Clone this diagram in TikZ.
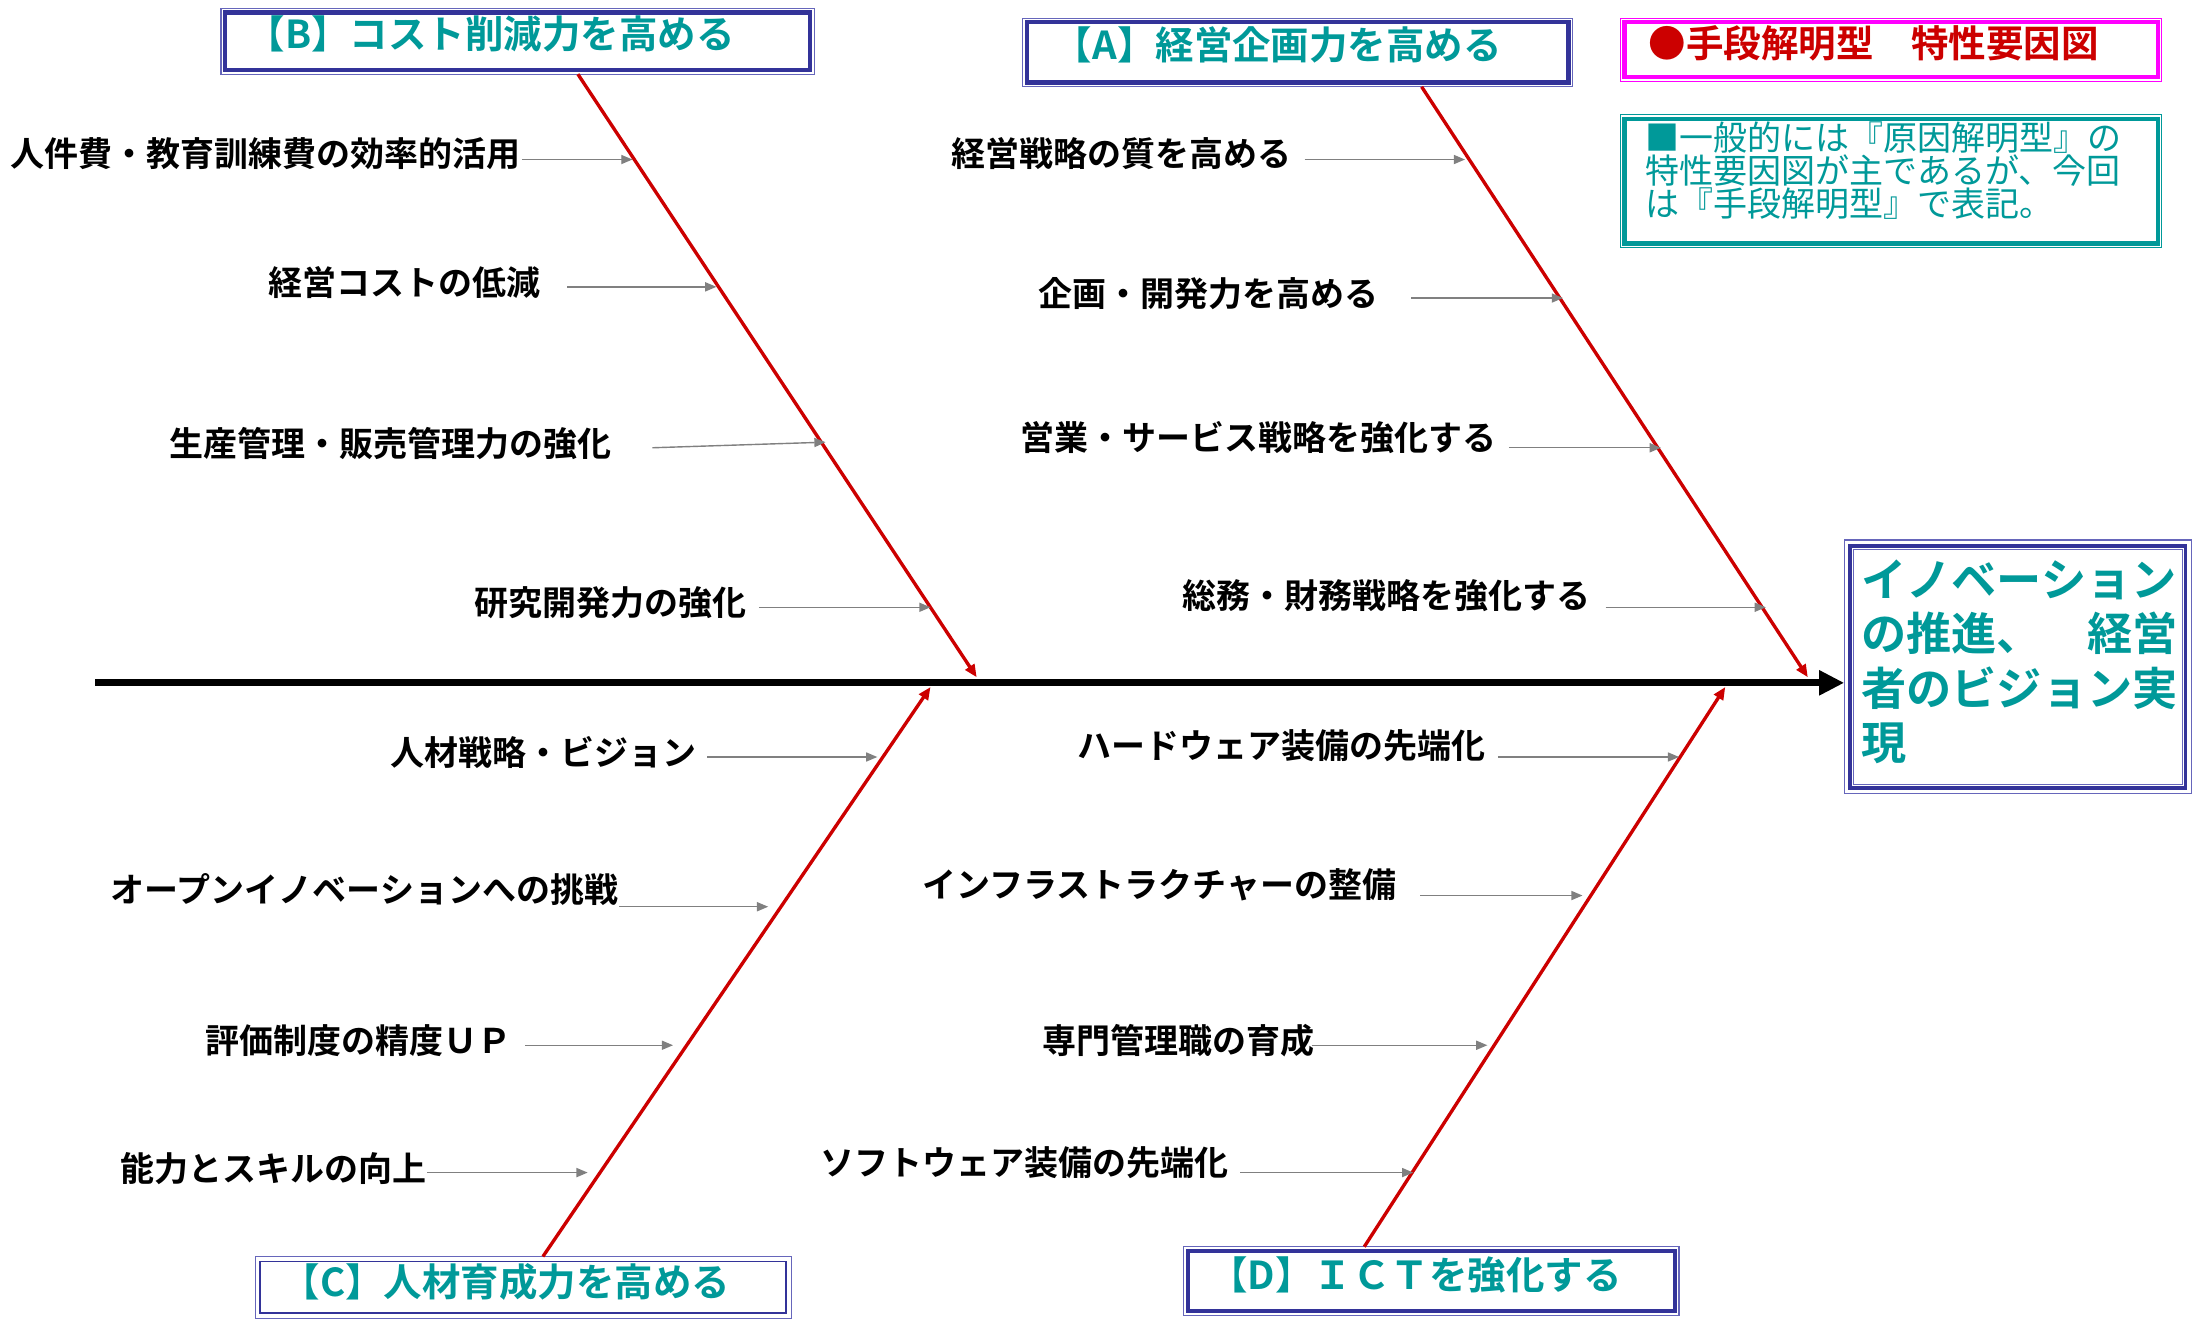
\documentclass[tikz,border=0pt]{standalone}
\usepackage{fontspec}
\setmainfont{Noto Sans CJK JP}[BoldFont={Noto Sans CJK JP Bold}]
\usetikzlibrary{arrows.meta,calc}
\definecolor{tealtx}{RGB}{0,153,153}
\definecolor{navy}{RGB}{51,51,153}
\definecolor{navylt}{RGB}{102,102,187}
\definecolor{bonered}{RGB}{204,0,0}
\definecolor{magen}{RGB}{255,0,255}
\definecolor{agray}{RGB}{128,128,128}
\tikzset{
  lab/.style={font=\bfseries\fontsize{24.3}{24.3}\selectfont, inner sep=0pt, anchor=west, text=black},
  hd/.style={font=\bfseries\fontsize{27.5}{27.5}\selectfont, text=tealtx, inner sep=0pt, anchor=west},
  thickframe/.style={draw=#1, line width=3pt, inner sep=0pt, outer sep=0pt, fill=white},
  thinframe/.style={draw=#1, line width=0.9pt},
  sub/.style={draw=agray, line width=1pt, -{Triangle[length=8pt,width=6.5pt]}},
  bone/.style={draw=bonered, line width=2.4pt, -{Triangle[length=9pt,width=7.5pt]}},
  spine/.style={draw=black, line width=5pt, -{Triangle[length=18pt,width=17pt]}},
}
\begin{document}
\begin{tikzpicture}[x=1pt,y=-1pt]
\fill[white] (0,0) rectangle (1568,943);
\useasboundingbox (0,0) rectangle (1568,943);

% ---------- category boxes ----------
\node[thickframe=navy, minimum width=387pt, minimum height=43pt] (bA) at (927.5,37.5) {};
\draw[thinframe=navylt] ([xshift=-3pt,yshift=3pt]bA.north west) rectangle ([xshift=3pt,yshift=-3pt]bA.south east);
\node[hd] (tA) at (753,32) {【A】経営企画力を高める};

\node[thickframe=navy, minimum width=418pt, minimum height=41pt] (bB) at (370,29.5) {};
\draw[thinframe=navylt] ([xshift=-3pt,yshift=3pt]bB.north west) rectangle ([xshift=3pt,yshift=-3pt]bB.south east);
\node[hd] (tB) at (176,24) {【B】コスト削減力を高める};

\node[draw=navy, line width=1.3pt, fill=white, inner sep=0pt, minimum width=376pt, minimum height=37pt] (bC) at (374,920) {};
\draw[thinframe=navylt] ([xshift=-3pt,yshift=3pt]bC.north west) rectangle ([xshift=3pt,yshift=-3pt]bC.south east);
\node[hd] (tC) at (201,916) {【C】人材育成力を高める};

\node[thickframe=navy, minimum width=348pt, minimum height=43pt] (bD) at (1023,915.5) {};
\draw[thinframe=navylt] ([xshift=-3pt,yshift=3pt]bD.north west) rectangle ([xshift=3pt,yshift=-3pt]bD.south east);
\node[hd] (tD) at (864,911) {【D】ＩＣＴを強化する};

% ---------- title and note ----------
\node[thickframe=magen, minimum width=381pt, minimum height=39pt] (bT) at (1351.5,35.5) {};
\draw[thinframe=magen] ([xshift=-3pt,yshift=3pt]bT.north west) rectangle ([xshift=3pt,yshift=-3pt]bT.south east);
\node[font=\bfseries\fontsize{26.8}{26.8}\selectfont, text=bonered, inner sep=0pt, anchor=west] (tT) at (1178,31) {●手段解明型　特性要因図};

\node[thickframe=tealtx, minimum width=381pt, minimum height=89pt] (bN) at (1351.5,129.5) {};
\draw[thinframe=tealtx] ([xshift=-3pt,yshift=3pt]bN.north west) rectangle ([xshift=3pt,yshift=-3pt]bN.south east);
\node[font=\fontsize{24.3}{23.5}\selectfont, text=tealtx, inner sep=0pt, anchor=west, align=left] (tN) at (1176,122)
  {■一般的には『原因解明型』の\\特性要因図が主であるが、今回\\は『手段解明型』で表記。};

% ---------- effect box ----------
\node[thickframe=navy, line width=2.6pt, minimum width=240pt, minimum height=173pt] (eff) at (1442,476.5) {};
\draw[thinframe=navylt] ([xshift=-4pt,yshift=4pt]eff.north west) rectangle ([xshift=4pt,yshift=-4pt]eff.south east);
\draw[thinframe=navylt] ([xshift=2.5pt,yshift=-2.5pt]eff.north west) rectangle ([xshift=-2.5pt,yshift=2.5pt]eff.south east);
\node[font=\bfseries\fontsize{32.3}{39}\selectfont, text=tealtx, inner sep=0pt, anchor=west, align=left] (tE) at (1330,473)
  {イノベーション\\の推進、　経営\\者のビジョン実\\現};

% ---------- spine ----------
\coordinate (sp0) at (68,488);
\draw[spine, shorten >=4pt] (sp0) -- (eff.west |- sp0);

% ---------- main bones ----------
\coordinate (a0) at (1016,62);  \coordinate (a1) at (1292,484);
\coordinate (b0) at (413,53);   \coordinate (b1) at (698,484);
\coordinate (c0) at (388,898);  \coordinate (c1) at (665,491);
\coordinate (d0) at (975,891);  \coordinate (d1) at (1233,491);
\draw[bone] (a0) -- (a1);
\draw[bone] (b0) -- (b1);
\draw[bone] (c0) -- (c1);
\draw[bone] (d0) -- (d1);

% ---------- sub causes: B ----------
\node[lab] (l1) at (7,110) {人件費・教育訓練費の効率的活用};
\node[lab] (l2) at (192,202) {経営コストの低減};
\node[lab] (l3) at (121,317) {生産管理・販売管理力の強化};
\node[lab] (l4) at (339,431) {研究開発力の強化};
% A
\node[lab] (l5) at (680,110) {経営戦略の質を高める};
\node[lab] (l6) at (742,210) {企画・開発力を高める};
\node[lab] (l7) at (729,313) {営業・サービス戦略を強化する};
\node[lab] (l8) at (845,426) {総務・財務戦略を強化する};
% C
\node[lab] (l9) at (279,538) {人材戦略・ビジョン};
\node[lab] (l10) at (79,636) {オープンイノベーションへの挑戦};
\node[lab] (l11) at (147,744) {評価制度の精度ＵＰ};
\node[lab] (l12) at (86,835) {能力とスキルの向上};
% D
\node[lab] (l13) at (770,533) {ハードウェア装備の先端化};
\node[lab] (l14) at (659,632) {インフラストラクチャーの整備};
\node[lab] (l15) at (745,744) {専門管理職の育成};
\node[lab] (l16) at (586,831) {ソフトウェア装備の先端化};

\coordinate (e1) at (452,114);
\coordinate (e2) at (512,205);
\coordinate (e3) at (590,316);
\coordinate (e4) at (665,434);
\coordinate (e5) at (1047,114);
\coordinate (e6) at (1117,213);
\coordinate (e7) at (1187,320);
\coordinate (e8) at (1262,434);
\coordinate (e9) at (627,541);
\coordinate (e10) at (549,648);
\coordinate (e11) at (481,747);
\coordinate (e12) at (420,838);
\coordinate (e13) at (1200,541);
\coordinate (e14) at (1131,640);
\coordinate (e15) at (1063,747);
\coordinate (e16) at (1010,838);

\draw[sub] (l1.east) ++(1,4) -- (e1);
\draw[sub] (l2.east) ++(18.6,3) -- (e2);
\draw[sub] (l3.east) ++(29,3) -- (e3);
\draw[sub] (l4.east) ++(8.6,3) -- (e4);
\draw[sub] (l5.east) ++(9,4) -- (e5);
\draw[sub] (l6.east) ++(23,3) -- (e6);
\draw[sub] (l7.east) ++(8.8,7) -- (e7);
\draw[sub] (l8.east) ++(10.4,8) -- (e8);
\draw[sub] (l9.east) ++(7.3,3) -- (e9);
\draw[sub] (l10.east) ++(0.5,12) -- (e10);
\draw[sub] (l11.east) ++(9.3,3) -- (e11);
\draw[sub] (l12.east) ++(0.3,3) -- (e12);
\draw[sub] (l13.east) ++(8.4,8) -- (e13);
\draw[sub] (l14.east) ++(16.8,8) -- (e14);
\draw[sub] (l15.east) ++(-2.4,3) -- (e15);
\draw[sub] (l16.east) ++(8.4,7) -- (e16);
\end{tikzpicture}
\end{document}
